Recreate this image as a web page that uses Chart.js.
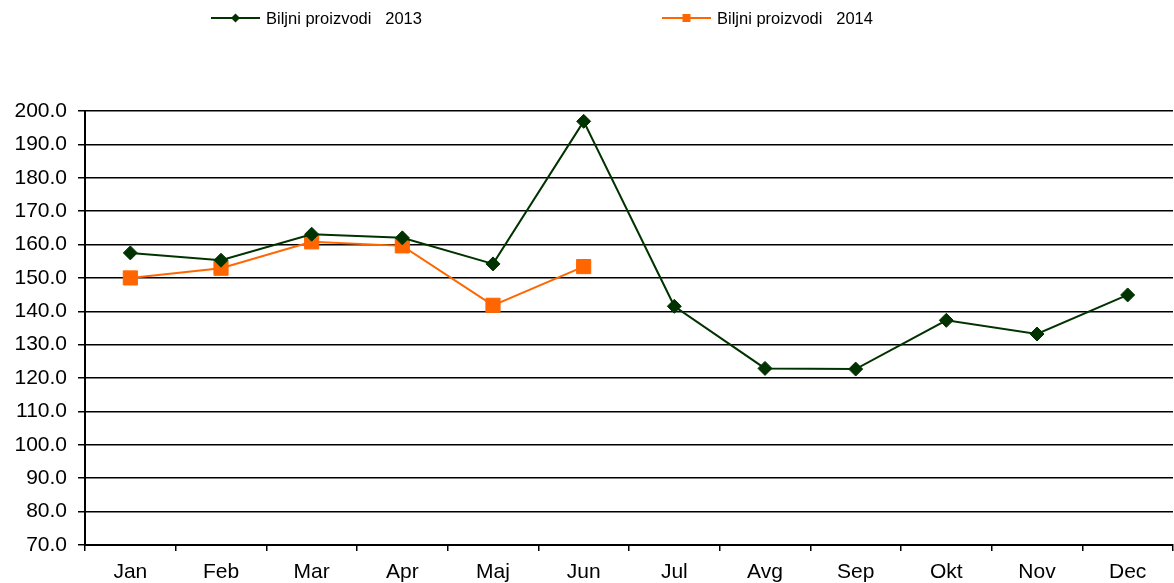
<!DOCTYPE html>
<html lang="hr">
<head>
    <meta charset="UTF-8">
    <title>Biljni proizvodi</title>
    <script src="https://cdn.jsdelivr.net/npm/chart.js"></script>
    <style>
        body {
            margin: 0;
            padding: 0;
            background: #ffffff;
        }
        #wrap {
            width: 1174px;
            height: 583px;
        }
    </style>
</head>
<body>
    <div id="wrap">
        <canvas id="lineChart" width="1174" height="583"></canvas>
    </div>

    <script>
        // Podaci
        const months = ['Jan', 'Feb', 'Mar', 'Apr', 'Maj', 'Jun', 'Jul', 'Avg', 'Sep', 'Okt', 'Nov', 'Dec'];
        const values2013 = [157.5, 155.3, 163.1, 162.0, 154.2, 196.9, 141.5, 122.9, 122.7, 137.3, 133.2, 144.9];
        const values2014 = [150.0, 152.9, 160.8, 159.6, 141.8, 153.4, null, null, null, null, null, null];
        const label2013 = 'Biljni proizvodi   2013';
        const label2014 = 'Biljni proizvodi   2014';

        // legenda: linija s markerom u sredini, kao u originalu
        const legendPlugin = {
            id: 'lineLegend',
            afterDraw(chart) {
                const ctx = chart.ctx;
                const starts = [211, 662];
                const y = 18;
                chart.data.datasets.forEach((ds, i) => {
                    const x0 = starts[i];
                    ctx.save();
                    ctx.strokeStyle = ds.borderColor;
                    ctx.lineWidth = 2;
                    ctx.beginPath();
                    ctx.moveTo(x0, y);
                    ctx.lineTo(x0 + 49, y);
                    ctx.stroke();
                    ctx.fillStyle = ds.pointBackgroundColor;
                    ctx.beginPath();
                    if (ds.pointStyle === 'rectRot') {
                        const r = 4.5;
                        const cx = x0 + 24.5;
                        ctx.moveTo(cx - r, y);
                        ctx.lineTo(cx, y - r);
                        ctx.lineTo(cx + r, y);
                        ctx.lineTo(cx, y + r);
                        ctx.closePath();
                    } else {
                        ctx.rect(x0 + 20.5, y - 4, 8, 8);
                    }
                    ctx.fill();
                    ctx.fillStyle = '#000';
                    ctx.font = '16.5px "Liberation Sans", Arial, sans-serif';
                    ctx.textBaseline = 'middle';
                    ctx.fillText(ds.label, x0 + 55, y + 1);
                    ctx.restore();
                });
            }
        };

        new Chart(document.getElementById('lineChart'), {
            type: 'line',
            data: {
                labels: months,
                datasets: [{
                    label: label2013,
                    data: values2013,
                    borderColor: '#003300',
                    backgroundColor: '#003300',
                    pointBackgroundColor: '#003300',
                    pointBorderColor: '#003300',
                    pointStyle: 'rectRot',
                    pointRadius: 7,
                    pointBorderWidth: 1,
                    borderWidth: 2,
                    tension: 0,
                    fill: false
                }, {
                    label: label2014,
                    data: values2014,
                    borderColor: '#FF6600',
                    backgroundColor: '#FF6600',
                    pointBackgroundColor: '#FF6600',
                    pointBorderColor: '#FF6600',
                    pointStyle: 'rect',
                    pointRadius: 10,
                    pointBorderWidth: 1,
                    borderWidth: 2,
                    tension: 0,
                    fill: false,
                    spanGaps: false
                }]
            },
            options: {
                responsive: false,
                animation: false,
                layout: {
                    autoPadding: false,
                    padding: { top: 111, left: 0, right: 1, bottom: 0 }
                },
                plugins: {
                    legend: { display: false },
                    tooltip: { enabled: false }
                },
                scales: {
                    x: {
                        offset: true,
                        afterFit: (scale) => {
                            scale.height = 38;
                            scale.paddingLeft = 0;
                            scale.paddingRight = 0;
                        },
                        grid: {
                            offset: true,
                            drawOnChartArea: false,
                            drawTicks: true,
                            tickLength: 6,
                            color: '#000',
                            lineWidth: 1.5
                        },
                        border: { color: '#000', width: 2 },
                        ticks: {
                            color: '#000',
                            padding: 9,
                            font: { family: '"Liberation Sans", Arial, sans-serif', size: 21 }
                        }
                    },
                    y: {
                        min: 70,
                        max: 200,
                        afterFit: (scale) => { scale.width = 85; },
                        grid: {
                            color: '#000',
                            lineWidth: 1.5,
                            tickLength: 7
                        },
                        border: { color: '#000', width: 2 },
                        ticks: {
                            stepSize: 10,
                            color: '#000',
                            padding: 11,
                            font: { family: '"Liberation Sans", Arial, sans-serif', size: 21 },
                            callback: (v) => Number(v).toFixed(1)
                        }
                    }
                }
            },
            plugins: [legendPlugin]
        });
    </script>
</body>
</html>
